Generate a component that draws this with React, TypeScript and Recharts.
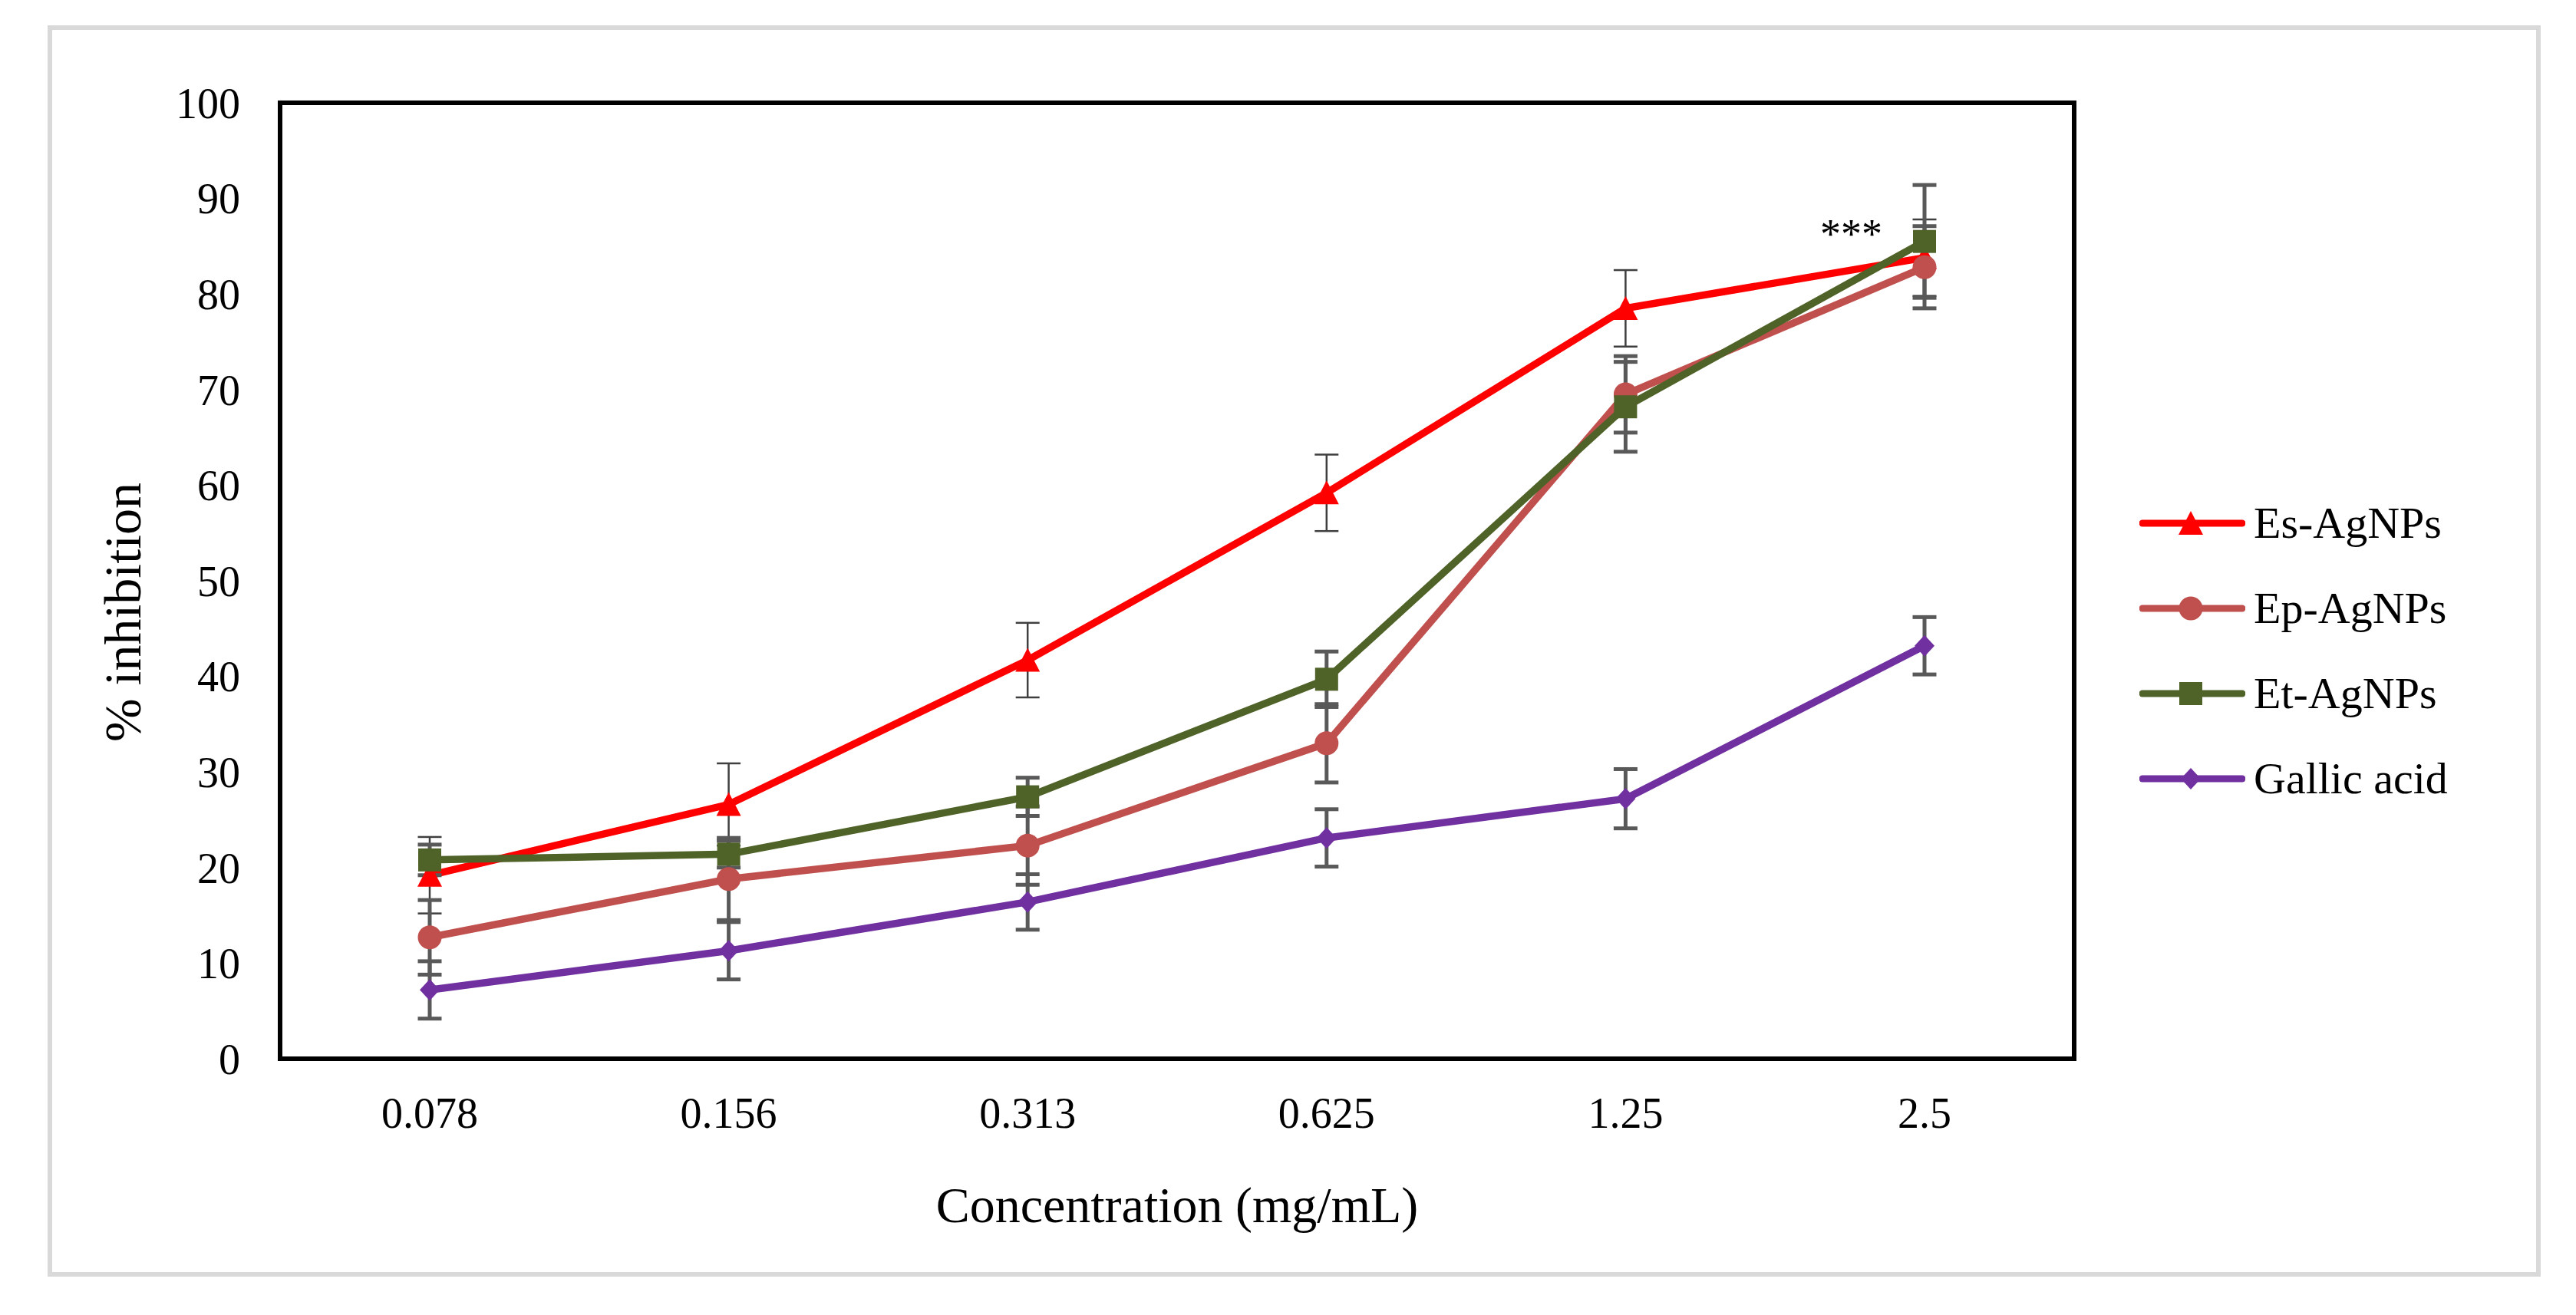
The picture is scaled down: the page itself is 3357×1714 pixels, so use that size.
import React from 'react';
import { LineChart, Line, XAxis, YAxis, ErrorBar, Legend, ReferenceDot, Label } from 'recharts';

const concentrations = ['0.078', '0.156', '0.313', '0.625', '1.25', '2.5'];

const esValues = [19.2, 26.6, 41.7, 59.2, 78.5, 83.8];
const esErrors = [4.0, 4.3, 3.9, 4.0, 4.0, 4.0];
const epValues = [12.7, 18.8, 22.3, 33.0, 69.5, 82.8];
const epErrors = [3.9, 4.3, 4.1, 4.1, 4.0, 4.3];
const etValues = [20.8, 21.4, 27.4, 39.7, 68.2, 85.5];
const etErrors = [1.6, 1.4, 2.0, 2.9, 4.7, 5.9];
const gaValues = [7.2, 11.3, 16.4, 23.1, 27.2, 43.2];
const gaErrors = [3.0, 3.0, 2.9, 3.0, 3.1, 3.0];

const yTicks = [0, 10, 20, 30, 40, 50, 60, 70, 80, 90, 100];

const FONT = "'Liberation Serif', 'Times New Roman', serif";

type Shape = 'triangle' | 'circle' | 'square' | 'diamond';

const series: { key: string; name: string; color: string; shape: Shape; errColor: string; errWidth: number }[] = [
  { key: 'es', name: 'Es-AgNPs', color: '#FF0000', shape: 'triangle', errColor: '#3f3f3f', errWidth: 2.5 },
  { key: 'ep', name: 'Ep-AgNPs', color: '#C0504D', shape: 'circle', errColor: '#595959', errWidth: 5 },
  { key: 'et', name: 'Et-AgNPs', color: '#4F6228', shape: 'square', errColor: '#595959', errWidth: 5 },
  { key: 'ga', name: 'Gallic acid', color: '#7030A0', shape: 'diamond', errColor: '#595959', errWidth: 5 },
];

const data = concentrations.map((conc, i) => ({
  conc,
  es: esValues[i],
  esErr: esErrors[i],
  ep: epValues[i],
  epErr: epErrors[i],
  et: etValues[i],
  etErr: etErrors[i],
  ga: gaValues[i],
  gaErr: gaErrors[i],
}));

function Marker({ shape, cx, cy, color }: { shape: Shape; cx: number; cy: number; color: string }) {
  if (shape === 'triangle') {
    return <polygon points={`${cx},${cy - 16} ${cx + 16},${cy + 15} ${cx - 16},${cy + 15}`} fill={color} />;
  }
  if (shape === 'circle') {
    return <circle cx={cx} cy={cy} r={15.5} fill={color} />;
  }
  if (shape === 'square') {
    return <rect x={cx - 15} y={cy - 15} width={30} height={30} fill={color} />;
  }
  return <polygon points={`${cx},${cy - 14} ${cx + 13},${cy} ${cx},${cy + 14} ${cx - 13},${cy}`} fill={color} />;
}

function LegendContent() {
  return (
    <div style={{ fontFamily: FONT, fontSize: 58, color: '#000' }}>
      {series.map((s) => (
        <div key={s.key} style={{ display: 'flex', alignItems: 'center', height: 111 }}>
          <svg width={138} height={40} style={{ flex: 'none' }}>
            <line x1={4} y1={20} x2={134} y2={20} stroke={s.color} strokeWidth={9} strokeLinecap="round" />
            <Marker shape={s.shape} cx={67} cy={20} color={s.color} />
          </svg>
          <span style={{ marginLeft: 11, whiteSpace: 'nowrap' }}>{s.name}</span>
        </div>
      ))}
    </div>
  );
}

function YTitle(props: any) {
  const { viewBox } = props;
  const x = viewBox.x + 18;
  const y = viewBox.y + viewBox.height / 2 + 41;
  return (
    <text
      x={x}
      y={y}
      transform={`rotate(-90, ${x}, ${y})`}
      textAnchor="middle"
      fontFamily={FONT}
      fontSize={68}
      fill="#000"
    >
      % inhibition
    </text>
  );
}

const frameLine = { stroke: '#000', strokeWidth: 6, strokeLinecap: 'square' as const };

export default function App() {
  return (
    <div style={{ position: 'absolute', left: 0, top: 0, width: 3357, height: 1714, background: '#fff' }}>
      <div
        style={{
          position: 'absolute',
          left: 62,
          top: 33,
          width: 3249,
          height: 1631,
          boxSizing: 'border-box',
          border: '6px solid #d9d9d9',
        }}
      />
      <LineChart
        width={3357}
        height={1714}
        data={data}
        margin={{ top: 133, right: 653, bottom: 234, left: 165 }}
      >
        <XAxis
          dataKey="conc"
          height={100}
          interval={0}
          tickSize={0}
          tickMargin={50}
          tickLine={false}
          axisLine={frameLine}
          padding={{ left: 195, right: 195 }}
          tick={{ fontSize: 56, fill: '#000', fontFamily: FONT }}
        >
          <Label
            value="Concentration (mg/mL)"
            position="bottom"
            offset={66}
            fontSize={66}
            fill="#000"
            fontFamily={FONT}
          />
        </XAxis>
        <XAxis
          xAxisId="top"
          dataKey="conc"
          orientation="top"
          height={1}
          tick={false}
          tickLine={false}
          axisLine={frameLine}
          padding={{ left: 195, right: 195 }}
        />
        <YAxis
          width={200}
          domain={[0, 100]}
          ticks={yTicks}
          interval={0}
          tickSize={0}
          tickMargin={52}
          tickLine={false}
          axisLine={frameLine}
          tick={{ fontSize: 56, fill: '#000', fontFamily: FONT }}
          label={<Label content={YTitle} />}
        />
        <YAxis
          yAxisId="right"
          orientation="right"
          width={1}
          domain={[0, 100]}
          tick={false}
          tickLine={false}
          axisLine={frameLine}
        />
        {series.map((s) => (
          <Line
            key={s.key}
            type="linear"
            dataKey={s.key}
            name={s.name}
            stroke={s.color}
            strokeWidth={9.5}
            isAnimationActive={false}
            activeDot={false}
            dot={(p: any) => <Marker key={`${s.key}-${p.index}`} shape={s.shape} cx={p.cx} cy={p.cy} color={s.color} />}
          >
            <ErrorBar
              dataKey={`${s.key}Err`}
              direction="y"
              width={15.5}
              stroke={s.errColor}
              strokeWidth={s.errWidth}
              isAnimationActive={false}
            />
          </Line>
        ))}
        <ReferenceDot x="2.5" y={86.4} r={0} stroke="none" fill="none">
          <Label value="***" position="left" offset={55} fontSize={54} fill="#000" fontFamily={FONT} />
        </ReferenceDot>
        <Legend
          layout="vertical"
          align="center"
          verticalAlign="middle"
          content={LegendContent}
          wrapperStyle={{ left: 2788, top: 626, width: 520 }}
        />
      </LineChart>
    </div>
  );
}
